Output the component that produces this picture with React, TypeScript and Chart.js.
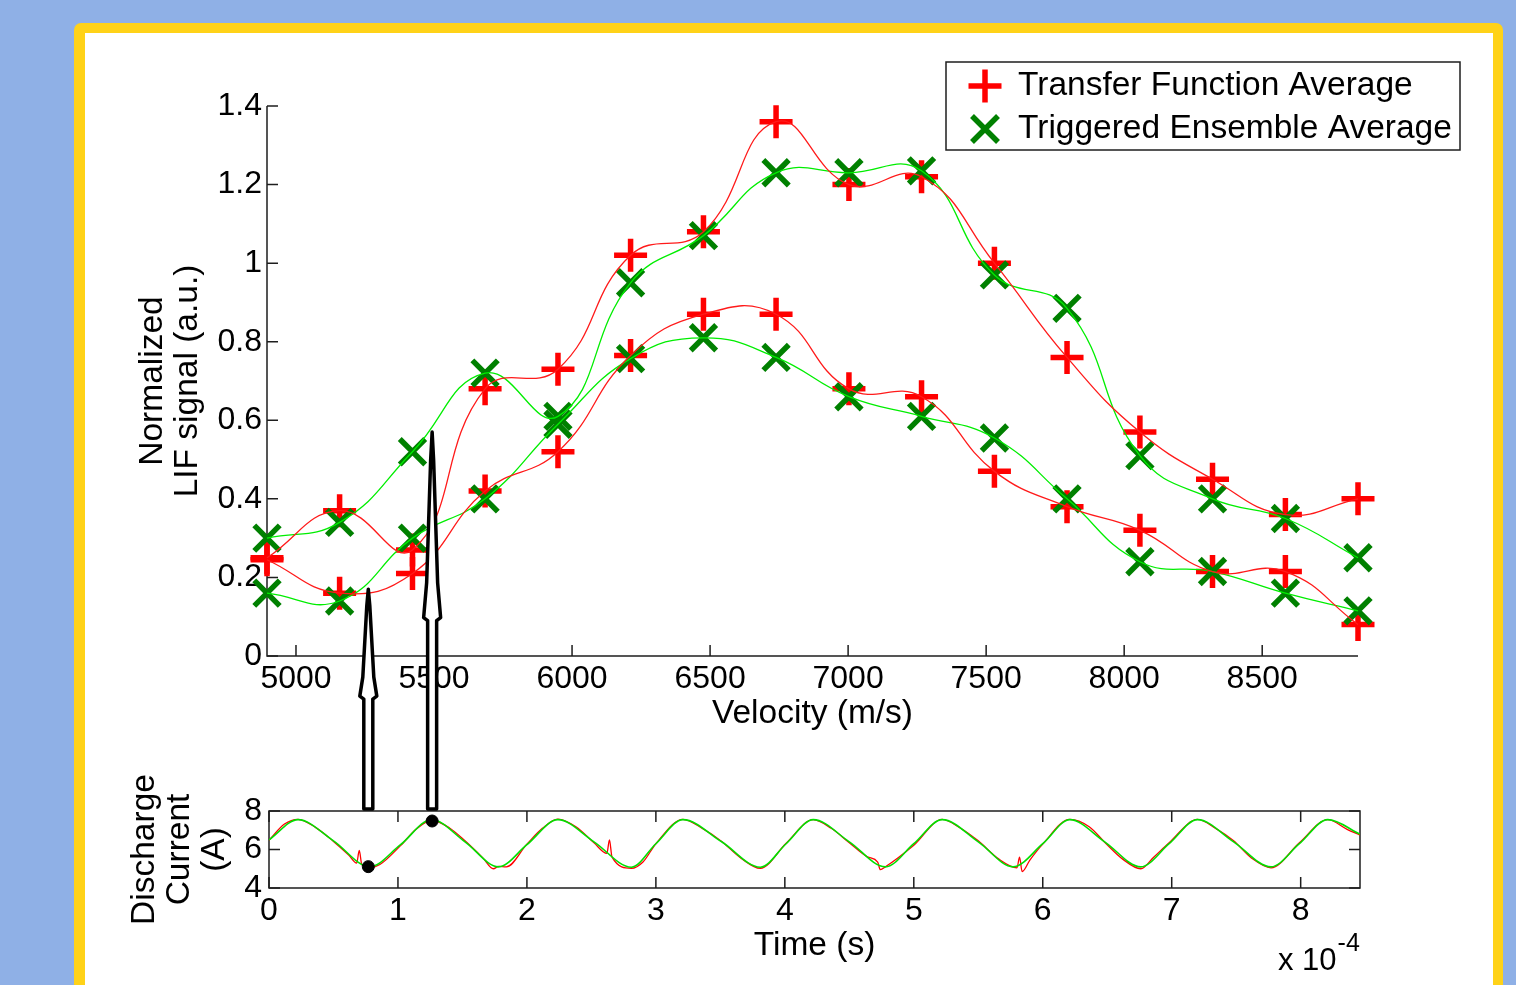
import React, { useEffect, useRef } from "react";
import { Chart, registerables } from "chart.js";

Chart.register(...registerables);

const FONT = "'Liberation Sans', Arial, Helvetica, sans-serif";

// ---------- Upper panel: LIF signal vs velocity ----------
const velocity = [4895, 5158, 5422, 5685, 5949, 6212, 6476, 6739, 7003, 7266, 7530, 7793, 8057, 8320, 8584, 8847];
const transferUpper = [0.25, 0.37, 0.27, 0.68, 0.73, 1.02, 1.08, 1.36, 1.2, 1.22, 1.0, 0.76, 0.57, 0.45, 0.36, 0.4];
const transferLower = [0.245, 0.16, 0.21, 0.42, 0.52, 0.765, 0.87, 0.87, 0.68, 0.66, 0.47, 0.38, 0.32, 0.215, 0.215, 0.08];
const triggeredUpper = [0.3, 0.34, 0.52, 0.72, 0.61, 0.95, 1.07, 1.23, 1.23, 1.235, 0.97, 0.885, 0.51, 0.4, 0.35, 0.25];
const triggeredLower = [0.16, 0.14, 0.3, 0.4, 0.59, 0.757, 0.81, 0.76, 0.66, 0.61, 0.555, 0.4, 0.24, 0.215, 0.16, 0.115];
const velocityTicks = [5000, 5500, 6000, 6500, 7000, 7500, 8000, 8500];
const lifTicks = [0, 0.2, 0.4, 0.6, 0.8, 1, 1.2, 1.4];
const legendLabels = ["Transfer Function Average", "Triggered Ensemble Average"];

// ---------- Lower panel: discharge current vs time (x 1e-4 s) ----------
const timeSmooth = [0, 0.225, 0.5, 0.78, 1.02, 1.26, 1.52, 1.78, 2.0, 2.24, 2.52, 2.81, 3.0, 3.21, 3.51, 3.81, 4.01, 4.22, 4.5, 4.78, 5.0, 5.22, 5.5, 5.77, 6.0, 6.21, 6.48, 6.76, 6.98, 7.2, 7.48, 7.77, 7.99, 8.21, 8.46];
const currentSmooth = [6.5, 7.55, 6.45, 5.1, 6.25, 7.55, 6.4, 5.1, 6.25, 7.55, 6.4, 5.08, 6.3, 7.55, 6.4, 5.08, 6.3, 7.55, 6.4, 5.1, 6.3, 7.55, 6.4, 5.1, 6.3, 7.55, 6.4, 5.1, 6.3, 7.55, 6.4, 5.1, 6.3, 7.55, 6.8];
const timeRaw = [0, 0.12, 0.225, 0.36, 0.5, 0.62, 0.68, 0.7, 0.72, 0.78, 0.86, 1.02, 1.14, 1.26, 1.4, 1.52, 1.66, 1.74, 1.78, 1.84, 2.0, 2.12, 2.24, 2.38, 2.52, 2.62, 2.64, 2.66, 2.81, 2.9, 3.0, 3.21, 3.36, 3.51, 3.66, 3.81, 4.01, 4.22, 4.36, 4.5, 4.64, 4.72, 4.74, 4.78, 5.0, 5.22, 5.36, 5.5, 5.66, 5.8, 5.82, 5.84, 5.9, 6.0, 6.21, 6.36, 6.48, 6.62, 6.76, 6.86, 6.98, 7.2, 7.34, 7.48, 7.62, 7.77, 7.99, 8.21, 8.36, 8.46];
const currentRaw = [6.48, 7.32, 7.57, 7.15, 6.42, 5.7, 5.3, 5.95, 5.2, 5.05, 5.22, 6.2, 7.05, 7.52, 7.12, 6.45, 5.55, 5.0, 5.12, 5.1, 6.28, 7.1, 7.58, 7.18, 6.35, 5.8, 6.5, 5.6, 5.02, 5.35, 6.3, 7.57, 7.1, 6.42, 5.55, 5.02, 6.33, 7.55, 7.1, 6.35, 5.62, 5.35, 4.95, 5.1, 6.22, 7.57, 7.12, 6.45, 5.5, 5.05, 5.6, 4.85, 5.45, 6.28, 7.56, 7.18, 6.38, 5.5, 5.0, 5.6, 6.35, 7.56, 7.1, 6.45, 5.55, 5.05, 6.35, 7.55, 7.05, 6.75];
const markedTimes = [0.77, 1.265];
const markedCurrents = [5.11, 7.48];
const arrowTipSignal = [0.17, 0.57];
const timeTicks = [0, 1, 2, 3, 4, 5, 6, 7, 8];
const currentTicks = [4, 6, 8];

const pts = (xs: number[], ys: number[]) => xs.map((x, i) => ({ x, y: ys[i] }));

const axesPlugin = (box: boolean, tickLen: number) => ({
  id: "matlabAxes",
  beforeDatasetsDraw(chart: any) {
    const { ctx, chartArea: a, scales } = chart;
    const xs = scales.x;
    const ys = scales.y;
    ctx.save();
    ctx.strokeStyle = "#1e1e1e";
    ctx.lineWidth = 1.5;
    ctx.beginPath();
    if (box) {
      ctx.rect(a.left, a.top, a.right - a.left, a.bottom - a.top);
    } else {
      ctx.moveTo(a.left, a.top);
      ctx.lineTo(a.left, a.bottom);
      ctx.lineTo(a.right, a.bottom);
    }
    ctx.stroke();
    ctx.beginPath();
    xs.ticks.forEach((t: any) => {
      const px = xs.getPixelForValue(t.value);
      ctx.moveTo(px, a.bottom);
      ctx.lineTo(px, a.bottom - tickLen);
      if (box) {
        ctx.moveTo(px, a.top);
        ctx.lineTo(px, a.top + tickLen);
      }
    });
    ys.ticks.forEach((t: any) => {
      const py = ys.getPixelForValue(t.value);
      ctx.moveTo(a.left, py);
      ctx.lineTo(a.left + tickLen, py);
      if (box) {
        ctx.moveTo(a.right, py);
        ctx.lineTo(a.right - tickLen, py);
      }
    });
    ctx.stroke();
    ctx.restore();
  },
});

const legendPlugin = {
  id: "matlabLegend",
  afterDraw(chart: any) {
    const { ctx } = chart;
    const bx = 861, by = 29, bw = 514, bh = 88;
    ctx.save();
    ctx.fillStyle = "#fff";
    ctx.fillRect(bx, by, bw, bh);
    ctx.strokeStyle = "#1e1e1e";
    ctx.lineWidth = 1.5;
    ctx.strokeRect(bx, by, bw, bh);
    const rows = [by + 24, by + 67];
    const mx = bx + 39;
    // plus marker
    ctx.strokeStyle = "#ff0000";
    ctx.lineWidth = 5.5;
    ctx.beginPath();
    ctx.moveTo(mx - 16.5, rows[0]);
    ctx.lineTo(mx + 16.5, rows[0]);
    ctx.moveTo(mx, rows[0] - 16.5);
    ctx.lineTo(mx, rows[0] + 16.5);
    ctx.stroke();
    // x marker
    ctx.strokeStyle = "#008000";
    const d = 13;
    ctx.beginPath();
    ctx.moveTo(mx - d, rows[1] - d);
    ctx.lineTo(mx + d, rows[1] + d);
    ctx.moveTo(mx + d, rows[1] - d);
    ctx.lineTo(mx - d, rows[1] + d);
    ctx.stroke();
    ctx.fillStyle = "#000";
    ctx.font = `33.5px ${FONT}`;
    ctx.textBaseline = "middle";
    ctx.textAlign = "left";
    ctx.fillText(legendLabels[0], bx + 72, rows[0]);
    ctx.fillText(legendLabels[1], bx + 72, rows[1]);
    ctx.restore();
  },
};

const exponentPlugin = {
  id: "exponent",
  afterDraw(chart: any) {
    const { ctx, chartArea: a } = chart;
    ctx.save();
    ctx.fillStyle = "#000";
    ctx.textBaseline = "middle";
    ctx.textAlign = "left";
    ctx.font = `31px ${FONT}`;
    const x0 = a.right - 82;
    ctx.fillText("x 10", x0, 201);
    const w = ctx.measureText("x 10").width;
    ctx.font = `25px ${FONT}`;
    ctx.fillText("-4", x0 + w + 1, 184);
    ctx.restore();
  },
};

function drawArrow(ctx: CanvasRenderingContext2D, cx: number, baseY: number, tipY: number) {
  const L = baseY - tipY;
  const H = L * 0.5;
  const sy = baseY - (L - H);
  ctx.beginPath();
  ctx.moveTo(cx - 4.5, baseY);
  ctx.lineTo(cx - 4.5, sy);
  ctx.lineTo(cx - 8.5, sy - 3);
  ctx.lineTo(cx - 5.5, sy - 0.2 * H);
  ctx.lineTo(cx - 1.5, tipY + 0.15 * H);
  ctx.lineTo(cx, tipY);
  ctx.lineTo(cx + 1.5, tipY + 0.15 * H);
  ctx.lineTo(cx + 5.5, sy - 0.2 * H);
  ctx.lineTo(cx + 8.5, sy - 3);
  ctx.lineTo(cx + 4.5, sy);
  ctx.lineTo(cx + 4.5, baseY);
  ctx.closePath();
  ctx.fillStyle = "#fff";
  ctx.fill();
  ctx.lineWidth = 3.5;
  ctx.lineJoin = "round";
  ctx.strokeStyle = "#000";
  ctx.stroke();
}

const TOP_LEFT = 85, TOP_TOP = 33, TOP_W = 1408, TOP_H = 727;
const BOT_LEFT = 85, BOT_TOP = 760, BOT_W = 1408, BOT_H = 225;

export default function App() {
  const topRef = useRef<HTMLCanvasElement>(null);
  const botRef = useRef<HTMLCanvasElement>(null);
  const ovRef = useRef<HTMLCanvasElement>(null);

  useEffect(() => {
    Chart.defaults.font.family = FONT;
    Chart.defaults.color = "#000";

    const lineDs = (label: string, ys: number[], color: string) => ({
      label,
      data: pts(velocity, ys),
      showLine: true,
      borderColor: color,
      borderWidth: 1.3,
      pointRadius: 0,
      tension: 0.45,
      order: 0,
      clip: false,
      fill: false,
    });
    const markerDs = (label: string, ys: number[], style: string, color: string, radius: number, order: number) => ({
      label,
      data: pts(velocity, ys),
      showLine: false,
      pointStyle: style,
      pointRadius: radius,
      pointHoverRadius: radius,
      pointBorderColor: color,
      pointBackgroundColor: color,
      pointBorderWidth: 5.5,
      order,
      clip: false,
    });

    const tickFont = { size: 32, lineHeight: 1.2 };
    const titleFont = { size: 33.5, lineHeight: 1.05 };

    const top = new Chart(topRef.current as HTMLCanvasElement, {
      type: "scatter",
      data: {
        datasets: [
          markerDs(legendLabels[0], transferUpper, "cross", "#ff0000", 16.5, 2),
          markerDs(legendLabels[0], transferLower, "cross", "#ff0000", 16.5, 2),
          markerDs(legendLabels[1], triggeredUpper, "crossRot", "#008000", 18, 1),
          markerDs(legendLabels[1], triggeredLower, "crossRot", "#008000", 18, 1),
          lineDs("tf upper fit", transferUpper, "#ff1a1a"),
          lineDs("tf lower fit", transferLower, "#ff1a1a"),
          lineDs("te upper fit", triggeredUpper, "#00ee00"),
          lineDs("te lower fit", triggeredLower, "#00ee00"),
        ] as any,
      },
      options: {
        responsive: false,
        animation: false,
        events: [],
        layout: { padding: { left: 0, right: 135, top: 73, bottom: 0 } },
        plugins: { legend: { display: false }, tooltip: { enabled: false } },
        scales: {
          x: {
            type: "linear",
            min: velocity[0],
            max: velocity[velocity.length - 1],
            afterBuildTicks: (s: any) => {
              s.ticks = velocityTicks.map((v) => ({ value: v }));
            },
            afterFit: (s: any) => {
              s.height = 104;
            },
            grid: { display: false, drawTicks: false },
            border: { display: false },
            ticks: { padding: 4, font: tickFont, color: "#000", maxRotation: 0, autoSkip: false, callback: (v: any) => String(v) },
            title: { display: true, text: "Velocity (m/s)", font: titleFont, color: "#000", padding: { top: 0, bottom: 29 } },
          },
          y: {
            type: "linear",
            min: 0,
            max: 1.4,
            afterBuildTicks: (s: any) => {
              s.ticks = lifTicks.map((v) => ({ value: v }));
            },
            afterFit: (s: any) => {
              s.width = 182;
            },
            grid: { display: false, drawTicks: false },
            border: { display: false },
            ticks: { padding: 5, font: tickFont, color: "#000", autoSkip: false, callback: (v: any) => String(v) },
            title: { display: true, text: ["Normalized", "LIF signal (a.u.)"], font: titleFont, color: "#000", padding: { top: 50, bottom: 0 } },
          },
        },
      } as any,
      plugins: [axesPlugin(false, 11), legendPlugin],
    });

    const bot = new Chart(botRef.current as HTMLCanvasElement, {
      type: "scatter",
      data: {
        datasets: [
          {
            label: "marked",
            data: pts(markedTimes, markedCurrents),
            showLine: false,
            pointRadius: 6,
            pointBackgroundColor: "#000",
            pointBorderColor: "#000",
            pointBorderWidth: 1,
            order: 0,
            clip: false,
          },
          {
            label: "smoothed",
            data: pts(timeSmooth, currentSmooth),
            showLine: true,
            borderColor: "#00e000",
            borderWidth: 1.6,
            pointRadius: 0,
            cubicInterpolationMode: "monotone",
            order: 1,
          },
          {
            label: "raw",
            data: pts(timeRaw, currentRaw),
            showLine: true,
            borderColor: "#ff0000",
            borderWidth: 1.3,
            pointRadius: 0,
            cubicInterpolationMode: "monotone",
            order: 2,
          },
        ] as any,
      },
      options: {
        responsive: false,
        animation: false,
        events: [],
        layout: { padding: { left: 0, right: 133, top: 51, bottom: 0 } },
        plugins: { legend: { display: false }, tooltip: { enabled: false } },
        scales: {
          x: {
            type: "linear",
            min: 0,
            max: 8.46,
            afterBuildTicks: (s: any) => {
              s.ticks = timeTicks.map((v) => ({ value: v }));
            },
            afterFit: (s: any) => {
              s.height = 97;
            },
            grid: { display: false, drawTicks: false },
            border: { display: false },
            ticks: { padding: 4, font: tickFont, color: "#000", maxRotation: 0, autoSkip: false, callback: (v: any) => String(v) },
            title: { display: true, text: "Time (s)", font: titleFont, color: "#000", padding: { top: 0, bottom: 22 } },
          },
          y: {
            type: "linear",
            min: 4,
            max: 8,
            afterBuildTicks: (s: any) => {
              s.ticks = currentTicks.map((v) => ({ value: v }));
            },
            afterFit: (s: any) => {
              s.width = 184;
            },
            grid: { display: false, drawTicks: false },
            border: { display: false },
            ticks: { padding: 7, font: tickFont, color: "#000", autoSkip: false, callback: (v: any) => String(v) },
            title: { display: true, text: ["Discharge", "Current", "(A)"], font: titleFont, color: "#000", padding: { top: 42, bottom: 0 } },
          },
        },
      } as any,
      plugins: [axesPlugin(true, 11), exponentPlugin],
    });

    const ov = ovRef.current as HTMLCanvasElement;
    const octx = ov.getContext("2d") as CanvasRenderingContext2D;
    octx.clearRect(0, 0, ov.width, ov.height);
    const baseY = BOT_TOP + bot.chartArea.top - 2;
    markedTimes.forEach((t, i) => {
      const cx = BOT_LEFT + bot.scales.x.getPixelForValue(t);
      const tipY = TOP_TOP + top.scales.y.getPixelForValue(arrowTipSignal[i]);
      drawArrow(octx, cx, baseY, tipY);
    });

    return () => {
      top.destroy();
      bot.destroy();
      octx.clearRect(0, 0, ov.width, ov.height);
    };
  }, []);

  return (
    <div style={{ position: "fixed", left: 0, top: 0, width: 1516, height: 985, background: "#8FB0E6", overflow: "hidden" }}>
      <div style={{ position: "absolute", left: 74, top: 23, width: 1429, height: 1000, background: "#FFD218", borderRadius: 7 }} />
      <div style={{ position: "absolute", left: 85, top: 33, width: 1408, height: 990, background: "#ffffff" }} />
      <div style={{ position: "absolute", left: TOP_LEFT, top: TOP_TOP, width: TOP_W, height: TOP_H }}>
        <canvas ref={topRef} width={TOP_W} height={TOP_H} style={{ width: TOP_W, height: TOP_H, display: "block" }} />
      </div>
      <div style={{ position: "absolute", left: BOT_LEFT, top: BOT_TOP, width: BOT_W, height: BOT_H }}>
        <canvas ref={botRef} width={BOT_W} height={BOT_H} style={{ width: BOT_W, height: BOT_H, display: "block" }} />
      </div>
      <canvas ref={ovRef} width={1516} height={985} style={{ position: "absolute", left: 0, top: 0, width: 1516, height: 985, pointerEvents: "none" }} />
    </div>
  );
}
